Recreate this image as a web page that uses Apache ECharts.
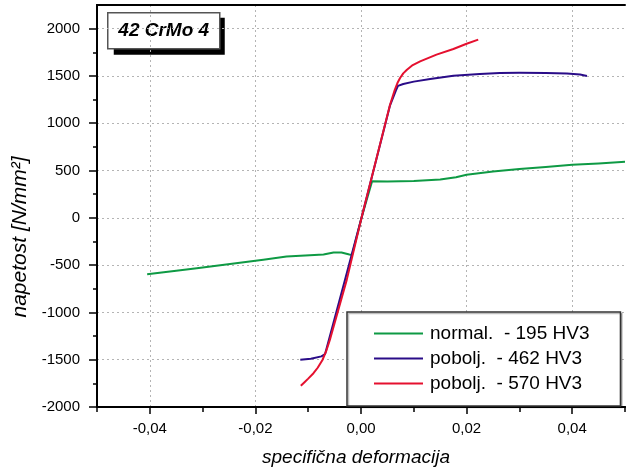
<!DOCTYPE html>
<html>
<head>
<meta charset="utf-8">
<script src="https://cdn.jsdelivr.net/npm/echarts@6/dist/echarts.min.js"></script>
<style>
  html, body { margin: 0; padding: 0; background: #fff; }
  #chart { width: 626px; height: 470px; }
</style>
</head>
<body>
<div id="chart"></div>
<script>
// Stress–strain curves, steel 42 CrMo 4, three heat-treatment states
const seriesNames = ['normal.  - 195 HV3', 'pobolj.  - 462 HV3', 'pobolj.  - 570 HV3'];
const seriesColors = ['#0e9a44', '#2a0c88', '#e5102f'];

// [strain, stress N/mm²]
const normal195 = [
  [-0.0405, -596], [-0.0350, -560], [-0.0311, -532], [-0.0248, -487],
  [-0.0185, -444], [-0.0141, -409], [-0.0097, -395], [-0.0071, -388],
  [-0.0052, -367], [-0.0037, -367], [-0.0022, -388], [-0.0017, -392],
  [0.0001, 0], [0.0021, 386], [0.0050, 384], [0.0100, 390],
  [0.0150, 405], [0.0180, 430], [0.0200, 455], [0.0250, 490],
  [0.0300, 515], [0.0350, 537], [0.0400, 560], [0.0450, 575], [0.0500, 592]
];
const pobolj462 = [
  [-0.0115, -1500], [-0.0095, -1490], [-0.0075, -1465], [-0.0068, -1440],
  [-0.0030, -650], [0.0001, 0], [0.0055, 1190], [0.0066, 1345],
  [0.0070, 1395], [0.0080, 1415], [0.0100, 1440], [0.0131, 1468],
  [0.0175, 1503], [0.0225, 1521], [0.0263, 1531], [0.0300, 1533],
  [0.0350, 1532], [0.0390, 1525], [0.0415, 1515], [0.0428, 1500]
];
const pobolj570 = [
  [-0.0114, -1775], [-0.0107, -1738], [-0.0100, -1700], [-0.0090, -1643],
  [-0.0082, -1585], [-0.0073, -1503], [-0.0066, -1410], [-0.0059, -1291],
  [-0.0027, -656], [0.0001, 0], [0.0055, 1196], [0.0064, 1354],
  [0.0069, 1425], [0.0074, 1478], [0.0080, 1527], [0.0087, 1566],
  [0.0098, 1615], [0.0112, 1654], [0.0143, 1725], [0.0175, 1785],
  [0.0200, 1840], [0.0222, 1884]
];

// tick positions
const xMajorTicks = [-0.04, -0.02, 0, 0.02, 0.04];
const xMinorTicks = [-0.05, -0.03, -0.01, 0.01, 0.03, 0.05];
const yMajorTicks = [-2000, -1500, -1000, -500, 0, 500, 1000, 1500, 2000];
const yMinorTicks = [-1750, -1250, -750, -250, 250, 750, 1250, 1750];

const FONT = '"Liberation Sans", Arial, Helvetica, sans-serif';
const dotted = { color: '#b4b4b4', width: 1, type: [2, 3] };
const blackLine = { color: '#000', width: 2 };
const axisLineStyle = { onZero: false, lineStyle: blackLine };

const chart = echarts.init(document.getElementById('chart'), null, { renderer: 'canvas' });

chart.setOption({
  animation: false,
  backgroundColor: '#fff',
  textStyle: { fontFamily: FONT },
  grid: { left: 97, right: 1, top: 5, bottom: 63, containLabel: false, outerBoundsMode: 'none' },
  xAxis: [
    {
      type: 'value', min: -0.05, max: 0.05, interval: 0.01, position: 'bottom',
      name: 'specifična deformacija', nameLocation: 'middle', nameGap: 41,
      nameTextStyle: { fontFamily: FONT, fontSize: 19, fontStyle: 'italic', color: '#000', padding: [0, 10, 0, 0] },
      axisLine: axisLineStyle,
      axisTick: { customValues: xMajorTicks, length: 7, lineStyle: { color: '#000', width: 1.5 } },
      axisLabel: {
        customValues: xMajorTicks, margin: 14, fontSize: 15, color: '#000', fontFamily: FONT,
        formatter: v => v.toFixed(2).replace('.', ',')
      },
      splitLine: { show: true, lineStyle: dotted }
    },
    {
      type: 'value', min: -0.05, max: 0.05, interval: 0.01, position: 'bottom',
      axisLine: axisLineStyle,
      axisTick: { customValues: xMinorTicks, length: 5, lineStyle: { color: '#000', width: 1.5 } },
      axisLabel: { show: false },
      splitLine: { show: false }
    },
    {
      type: 'value', min: -0.05, max: 0.05, position: 'top',
      axisLine: axisLineStyle,
      axisTick: { show: false }, axisLabel: { show: false }, splitLine: { show: false }
    }
  ],
  yAxis: [
    {
      type: 'value', min: -2000, max: 2250, interval: 250, position: 'left',
      name: 'napetost [N/mm²]', nameLocation: 'middle', nameGap: 61, nameRotate: 90,
      nameTextStyle: { fontFamily: FONT, fontSize: 21, fontStyle: 'italic', color: '#000', padding: [0, 62, 0, 0] },
      axisLine: axisLineStyle,
      axisTick: { customValues: yMajorTicks, length: 8, lineStyle: { color: '#000', width: 1.5 } },
      axisLabel: {
        customValues: yMajorTicks, margin: 17, fontSize: 15, color: '#000', fontFamily: FONT,
        formatter: v => String(v)
      },
      splitLine: { show: true, lineStyle: dotted }
    },
    {
      type: 'value', min: -2000, max: 2250, interval: 250, position: 'left',
      axisLine: axisLineStyle,
      axisTick: { customValues: yMinorTicks, length: 4, lineStyle: { color: '#000', width: 1.5 } },
      axisLabel: { show: false },
      splitLine: { show: false }
    }
  ],
  legend: {
    data: seriesNames,
    orient: 'vertical',
    left: 347, top: 312,
    padding: [12, 31, 13, 27],
    itemGap: 6,
    itemWidth: 49, itemHeight: 2,
    icon: 'rect',
    backgroundColor: '#fff',
    borderColor: '#333', borderWidth: 1.5,
    shadowColor: 'rgba(0,0,0,0.25)', shadowOffsetX: 1.5, shadowOffsetY: 1.5, shadowBlur: 0,
    textStyle: { fontFamily: FONT, fontSize: 19, color: '#000', lineHeight: 18, padding: [0, 0, 0, 2] }
  },
  series: [
    { name: seriesNames[0], type: 'line', data: normal195, color: seriesColors[0] },
    { name: seriesNames[1], type: 'line', data: pobolj462, color: seriesColors[1] },
    { name: seriesNames[2], type: 'line', data: pobolj570, color: seriesColors[2] }
  ].map(s => Object.assign(s, {
    xAxisIndex: 0, yAxisIndex: 0, showSymbol: false, symbol: 'none',
    lineStyle: { width: 2, color: s.color, join: 'round' }, z: 3
  })),
  graphic: [
    {
      type: 'group', left: 107, top: 12, z: 100,
      children: [
        { type: 'rect', shape: { x: 6, y: 5, width: 111, height: 37 }, style: { fill: '#000' } },
        { type: 'rect', shape: { x: 0, y: 0, width: 112, height: 36 }, style: { fill: '#fff', stroke: '#555', lineWidth: 1.5 } },
        {
          type: 'text', x: 56, y: 18,
          style: {
            text: '42 CrMo 4', fill: '#000', font: 'italic bold 19px ' + FONT,
            align: 'center', verticalAlign: 'middle'
          }
        }
      ]
    }
  ]
});
</script>
</body>
</html>
